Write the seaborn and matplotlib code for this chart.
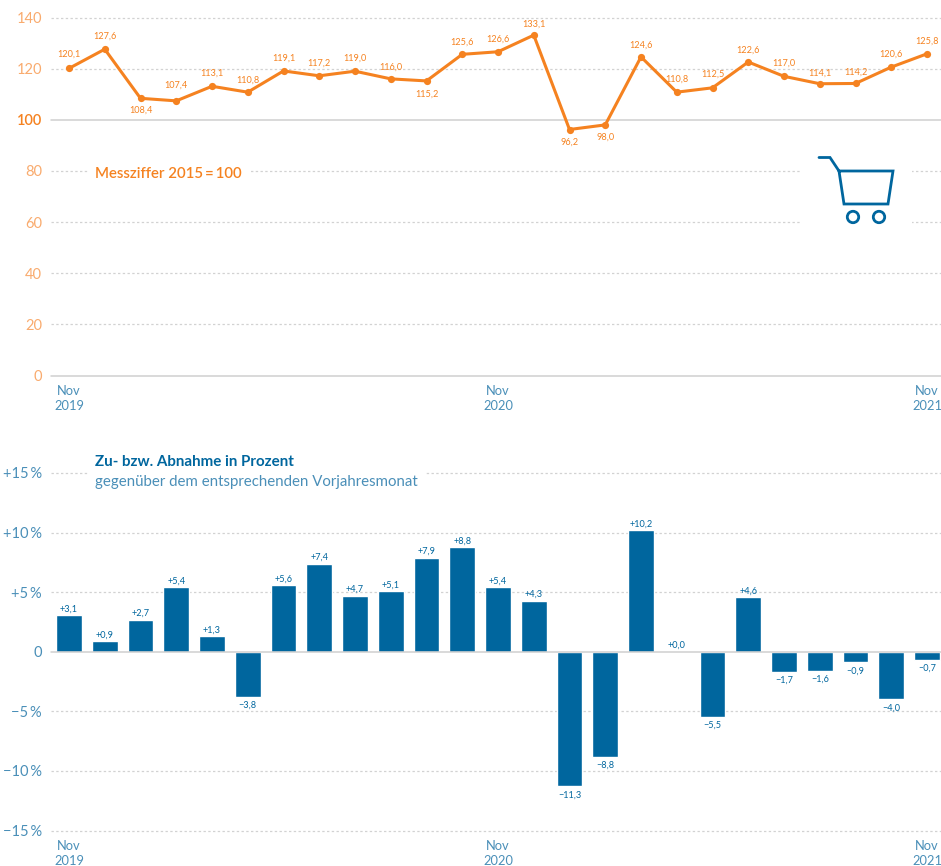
import matplotlib
matplotlib.use("Agg")
import matplotlib.pyplot as plt
from matplotlib.patches import Circle, Rectangle
import numpy as np
import pandas as pd
import seaborn as sns

sns.set_theme(style="white")
plt.rcParams['font.family'] = ['Lato', 'DejaVu Sans']

months = list(range(25))
index_values = [120.1,127.6,108.4,107.4,113.1,110.8,119.1,117.2,119.0,116.0,115.2,125.6,126.6,133.1,96.2,98.0,124.6,110.8,112.5,122.6,117.0,114.1,114.2,120.6,125.8]
change_values = [3.1,0.9,2.7,5.4,1.3,-3.8,5.6,7.4,4.7,5.1,7.9,8.8,5.4,4.3,-11.3,-8.8,10.2,0.0,-5.5,4.6,-1.7,-1.6,-0.9,-4.0,-0.7]
label_dy = [14,13,-12,16,13,12,13,13,13,12,-13,12,13,11,-13,-12,12,13,14,12,13,11,11,13,13]
top_ticks = [0,20,40,60,80,100,120,140]
bottom_ticks = [-15,-10,-5,0,5,10,15]
bottom_ticklabels = ['−15\u2009%','−10\u2009%','−5\u2009%','0','+5\u2009%','+10\u2009%','+15\u2009%']
x_ticks = [0,12,24]
x_labels = ['Nov\n2019','Nov\n2020','Nov\n2021']

BLUE = '#00669e'
BLUE_L = '#4a8fb8'
ORANGE = '#f58220'
ORANGE_L = '#f9ab6e'
GRID = '#d2d2d2'
W, H = 941, 866

def ax_px(fig, x0, x1, ytop, ybot):
    return fig.add_axes([x0/W, 1-ybot/H, (x1-x0)/W, (ybot-ytop)/H])

fig = plt.figure(figsize=(W/100, H/100), dpi=100)
xlim = (-18.0/35.75, 24+14.0/35.75)

df = pd.DataFrame({'m': months, 'idx': index_values, 'chg': change_values})

# top chart
ax = ax_px(fig, 51, 941, 17.5, 375.5)
sns.lineplot(data=df, x='m', y='idx', ax=ax, color=ORANGE, lw=2.2, marker='o', markersize=5.2,
             markeredgewidth=0, zorder=5, clip_on=False, errorbar=None)
ax.set_xlim(*xlim); ax.set_ylim(0, 140)
for y in top_ticks:
    if y == 0 or y == 100:
        ax.axhline(y, color='#cfcfcf', lw=1.1, zorder=1, clip_on=False)
    else:
        ax.axhline(y, color=GRID, lw=0.9, dashes=(1.9, 1.9), zorder=1, clip_on=False)
for m, v, d in zip(months, index_values, label_dy):
    ax.annotate(f'{v:.1f}'.replace('.', ','), (m, v), xytext=(0, d*0.72), textcoords='offset points',
                ha='center', va='center', fontsize=6.6, color=ORANGE, zorder=6)
ax.set_yticks(top_ticks)
ax.set_yticklabels([str(t) for t in top_ticks], fontsize=10.5, color=ORANGE_L)
for lab, t in zip(ax.get_yticklabels(), top_ticks):
    if t == 100:
        lab.set_color(ORANGE); lab.set_fontweight(600)

ax.text((95-51)/890, 1-(173.5-17.5)/358, 'Messziffer 2015\u2009=\u2009100', transform=ax.transAxes,
        fontsize=10.8, fontweight=600, color=ORANGE, ha='left', va='center', zorder=6,
        bbox=dict(fc='white', ec='none', pad=5))

# bottom chart
bx = ax_px(fig, 51, 941, 473, 830.5)
sns.barplot(data=df, x='m', y='chg', ax=bx, color=BLUE, width=0.72, saturation=1, zorder=4, errorbar=None)
bx.set_xlim(*xlim); bx.set_ylim(-15, 15)
for y in bottom_ticks:
    if y == 0:
        bx.axhline(y, color='#cfcfcf', lw=1.1, zorder=5, clip_on=False)
    else:
        bx.axhline(y, color=GRID, lw=0.9, dashes=(1.9, 1.9), zorder=1, clip_on=False)
for m, v in zip(months, change_values):
    txt = ('+' if v >= 0 else '−') + f'{abs(v):.1f}'.replace('.', ',')
    bx.annotate(txt, (m, v), xytext=(0, 4.4 if v >= 0 else -6.0), textcoords='offset points',
                ha='center', va='center', fontsize=6.6, color=BLUE, zorder=6)
bx.set_yticks(bottom_ticks)
bx.set_yticklabels(bottom_ticklabels, fontsize=10.5, color=BLUE_L)
bx.text((95-51)/890, 1-(462-473)/357.5, 'Zu- bzw. Abnahme in Prozent', transform=bx.transAxes,
        fontsize=10.9, fontweight='bold', color=BLUE, ha='left', va='center', zorder=7, clip_on=False)
bx.text((95-51)/890, 1-(482-473)/357.5, 'gegenüber dem entsprechenden Vorjahresmonat', transform=bx.transAxes,
        fontsize=10.8, color=BLUE_L, ha='left', va='center', zorder=7,
        bbox=dict(fc='white', ec='none', pad=5))

for a in (ax, bx):
    sns.despine(ax=a, left=True, bottom=True, top=True, right=True)
    a.set_xticks(x_ticks)
    a.set_xticklabels(x_labels, fontsize=9.3, color=BLUE_L, linespacing=1.35)
    a.tick_params(axis='x', length=0, pad=6.5)
    a.tick_params(axis='y', length=0, pad=6.5)
    a.set_xlabel(''); a.set_ylabel('')
    a.grid(False)
    a.patch.set_alpha(0)

# shopping-cart icon, in pixel coordinates
ic = fig.add_axes([0, 0, 1, 1], zorder=3)
ic.set_xlim(0, W); ic.set_ylim(H, 0); ic.axis('off')
ic.add_patch(Rectangle((800, 150), 112, 80, fc='white', ec='none'))
cx = [819, 830, 839, 893, 888, 844, 839]
cy = [157.5, 157.5, 171, 171, 204, 204, 171]
ic.plot(cx, cy, color=BLUE, lw=2.0, solid_joinstyle='miter')
for c in (853, 879):
    ic.add_patch(Circle((c, 217), 5.7, fc='white', ec=BLUE, lw=2.0))
fig.savefig('out.png', dpi=100)
